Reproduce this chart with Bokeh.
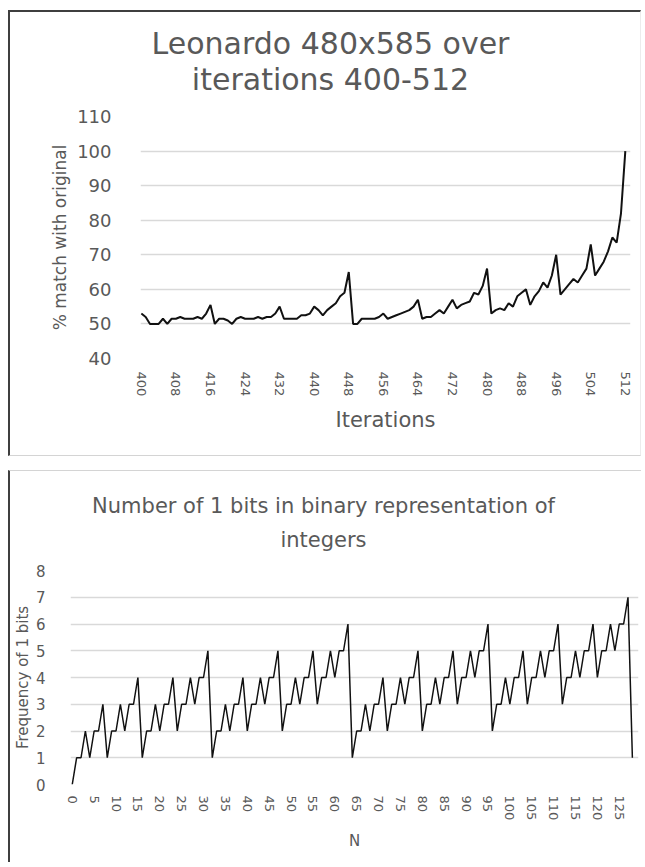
from bokeh.plotting import figure
from bokeh.models import FixedTicker, ColumnDataSource, Range1d
from bokeh.layouts import column
from bokeh.embed import file_html
from bokeh.resources import INLINE
from bokeh.core.properties import value

# ---------------- data: top chart ----------------
iterations = list(range(400, 513))
match_pct = [
    53, 52, 50, 50, 50, 51.5, 50, 51.5,          # 400-407
    51.5, 52, 51.5, 51.5, 51.5, 52, 51.5, 53,    # 408-415
    55.5, 50, 51.5, 51.5, 51, 50, 51.5, 52,      # 416-423
    51.5, 51.5, 51.5, 52, 51.5, 52, 52, 53,      # 424-431
    55, 51.5, 51.5, 51.5, 51.5, 52.5, 52.5, 53,  # 432-439
    55, 54, 52.5, 54, 55, 56, 58, 59,            # 440-447
    65, 50, 50, 51.5, 51.5, 51.5, 51.5, 52,      # 448-455
    53, 51.5, 52, 52.5, 53, 53.5, 54, 55,        # 456-463
    57, 51.5, 52, 52, 53, 54, 53, 55,            # 464-471
    57, 54.5, 55.5, 56, 56.5, 59, 58.5, 61,      # 472-479
    66, 53, 54, 54.5, 54, 56, 55, 58,            # 480-487
    59, 60, 55.5, 58, 59.5, 62, 60.5, 64,        # 488-495
    70, 58.5, 60, 61.5, 63, 62, 64, 66,          # 496-503
    73, 64, 66, 68, 71, 75, 73.5, 82,            # 504-511
    100,                                         # 512
]
top_xticks = [400, 408, 416, 424, 432, 440, 448, 456, 464, 472, 480, 488, 496, 504, 512]
top_yticks = [40, 50, 60, 70, 80, 90, 100, 110]
top_title = ["Leonardo 480x585 over", "iterations 400-512"]

# ---------------- data: bottom chart ----------------
n_values = list(range(0, 129))
one_bits = [
    0, 1, 1, 2, 1, 2, 2, 3, 1, 2, 2, 3, 2, 3, 3, 4,
    1, 2, 2, 3, 2, 3, 3, 4, 2, 3, 3, 4, 3, 4, 4, 5,
    1, 2, 2, 3, 2, 3, 3, 4, 2, 3, 3, 4, 3, 4, 4, 5,
    2, 3, 3, 4, 3, 4, 4, 5, 3, 4, 4, 5, 4, 5, 5, 6,
    1, 2, 2, 3, 2, 3, 3, 4, 2, 3, 3, 4, 3, 4, 4, 5,
    2, 3, 3, 4, 3, 4, 4, 5, 3, 4, 4, 5, 4, 5, 5, 6,
    2, 3, 3, 4, 3, 4, 4, 5, 3, 4, 4, 5, 4, 5, 5, 6,
    3, 4, 4, 5, 4, 5, 5, 6, 4, 5, 5, 6, 5, 6, 6, 7,
    1,
]
bottom_xticks = [0, 5, 10, 15, 20, 25, 30, 35, 40, 45, 50, 55, 60, 65, 70, 75,
                 80, 85, 90, 95, 100, 105, 110, 115, 120, 125]
bottom_yticks = [0, 1, 2, 3, 4, 5, 6, 7, 8]
bottom_title = ["Number of 1 bits in binary representation of", "integers"]

FONT = "DejaVu Sans"
TXT = "#595959"
GRID = "#d9d9d9"
DARK = "2px solid #3f3f3f"
LIGHT = "1px solid #d4d4d4"
W = 633


def title_fig(h, lines, xs, ys, fs, styles):
    t = figure(width=W, height=h, x_range=Range1d(0, W), y_range=Range1d(0, h),
               x_axis_type=None, y_axis_type=None, output_backend="svg", title=None,
               toolbar_location=None, min_border=0, frame_align=False)
    t.outline_line_color = None
    t.border_fill_color = "white"
    t.background_fill_color = "white"
    t.styles = styles
    t.text(x=xs, y=ys, text=lines, text_align="center", text_baseline="alphabetic",
           text_font=value(FONT), text_font_size=value(fs), text_color=TXT)
    return t


def style(p, xticks, yticks, xfs, yfs, xlab, ylab, xlab_fs, ylab_fs,
          xstand, ystand, xlstand, ylstand):
    p.outline_line_color = None
    p.background_fill_color = "white"
    p.border_fill_color = "white"
    p.xgrid.visible = False
    p.ygrid.grid_line_color = GRID
    p.ygrid.grid_line_width = 1.5
    p.xaxis.ticker = FixedTicker(ticks=xticks)
    p.yaxis.ticker = FixedTicker(ticks=yticks)
    for ax in (p.xaxis[0], p.yaxis[0]):
        ax.axis_line_color = None
        ax.major_tick_line_color = None
        ax.minor_tick_line_color = None
        ax.major_label_text_font = FONT
        ax.major_label_text_color = TXT
        ax.axis_label_text_font = FONT
        ax.axis_label_text_color = TXT
        ax.axis_label_text_font_style = "normal"
    p.xaxis.axis_label_text_font_size = xlab_fs
    p.yaxis.axis_label_text_font_size = ylab_fs
    p.xaxis.major_label_orientation = "vertical"
    p.xaxis.major_label_text_font_size = xfs
    p.yaxis.major_label_text_font_size = yfs
    p.xaxis.axis_label = xlab
    p.yaxis.axis_label = ylab
    p.xaxis.major_label_standoff = xstand
    p.yaxis.major_label_standoff = ystand
    p.xaxis.axis_label_standoff = xlstand
    p.yaxis.axis_label_standoff = ylstand


# ---------------- top block ----------------
t1 = title_fig(96, top_title, [320, 320], [65, 29], "30px",
               {"border-left": DARK, "border-top": DARK, "border-right": "1px solid #ececec"})
p1 = figure(width=W, height=350, x_range=Range1d(399.8, 513.2), y_range=Range1d(40, 110),
            output_backend="svg", toolbar_location=None, frame_align=False, title=None,
            min_border_left=130, min_border_right=13, min_border_top=10, min_border_bottom=98)
p1.styles = {"border-left": DARK, "border-bottom": LIGHT, "border-right": "1px solid #ececec"}
style(p1, top_xticks, top_yticks, "13px", "18px", "Iterations", "% match with original",
      "21px", "17px", 7, 23, 9, 4)
src1 = ColumnDataSource(dict(x=iterations, y=match_pct))
p1.line("x", "y", source=src1, line_color="#111111", line_width=2)

# ---------------- bottom block ----------------
t2 = title_fig(90, bottom_title, [313, 313], [56, 22], "21px",
               {"border-left": DARK, "border-top": LIGHT})
p2 = figure(width=W, height=302, x_range=Range1d(-0.4, 129.4), y_range=Range1d(0, 8),
            output_backend="svg", toolbar_location=None, frame_align=False, title=None,
            min_border_left=54, min_border_right=5, min_border_top=10, min_border_bottom=78)
p2.styles = {"border-left": DARK}
style(p2, bottom_xticks, bottom_yticks, "13px", "15px", "N", "Frequency of 1 bits",
      "15px", "15px", 5, 19, 9, 1)
src2 = ColumnDataSource(dict(x=n_values, y=one_bits))
p2.line("x", "y", source=src2, line_color="#111111", line_width=1.5)

block1 = column(t1, p1, spacing=0)
block2 = column(t2, p2, spacing=0)
layout = column(block1, block2, spacing=14, margin=(10, 0, 0, 8))
open("out.html", "w").write(file_html(layout, INLINE))
